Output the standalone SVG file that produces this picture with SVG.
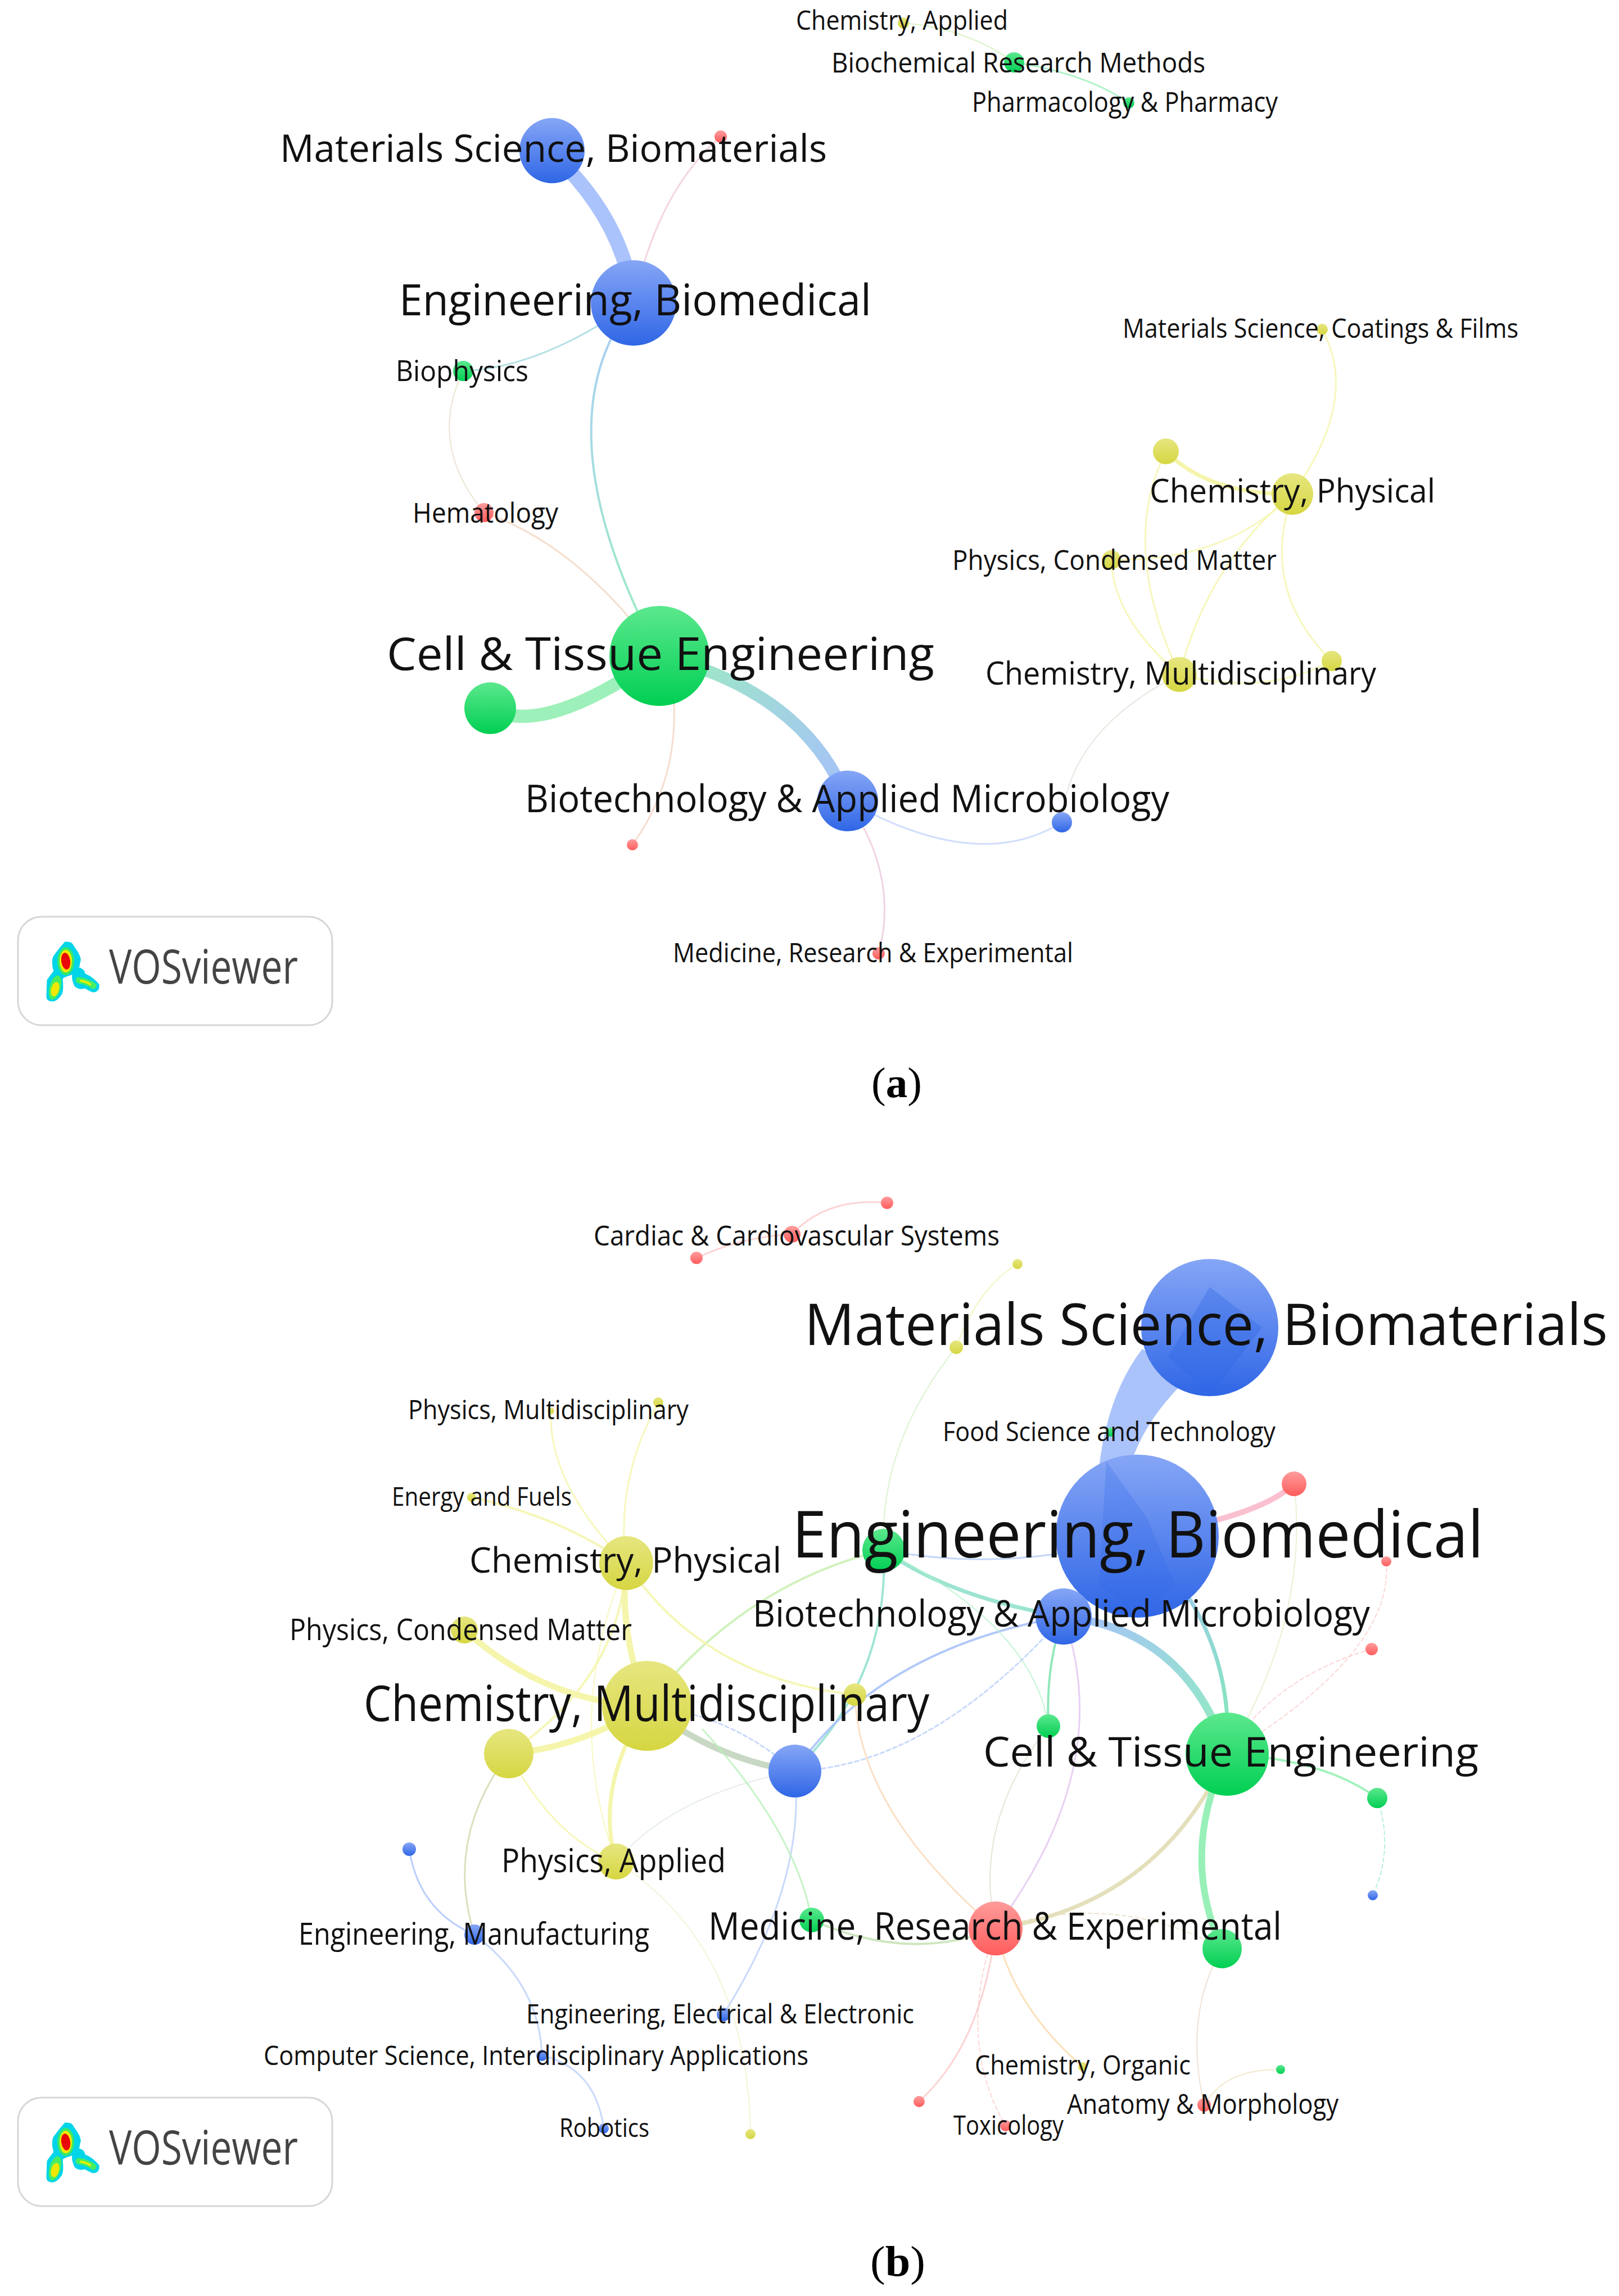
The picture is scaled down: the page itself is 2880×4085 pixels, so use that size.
<svg xmlns="http://www.w3.org/2000/svg" width="2880" height="4085" viewBox="0 0 2880 4085">
<defs>
<linearGradient id="gb" x1="0" y1="0" x2="0" y2="1"><stop offset="0" stop-color="#86a6f6"/><stop offset="1" stop-color="#2f66e6"/></linearGradient>
<linearGradient id="gg" x1="0" y1="0" x2="0" y2="1"><stop offset="0" stop-color="#5ce88e"/><stop offset="1" stop-color="#00cf52"/></linearGradient>
<linearGradient id="gy" x1="0" y1="0" x2="0" y2="1"><stop offset="0" stop-color="#e6e680"/><stop offset="1" stop-color="#d6d642"/></linearGradient>
<linearGradient id="gr" x1="0" y1="0" x2="0" y2="1"><stop offset="0" stop-color="#ff9c9c"/><stop offset="1" stop-color="#ff5c5c"/></linearGradient>
<linearGradient id="eb" gradientUnits="userSpaceOnUse" x1="1127" y1="539" x2="1173" y2="1167"><stop offset="0" stop-color="#9cc4f4"/><stop offset="1" stop-color="#8cecb8"/></linearGradient>
<linearGradient id="cb" gradientUnits="userSpaceOnUse" x1="1173" y1="1167" x2="1508" y2="1425"><stop offset="0" stop-color="#9cecc0"/><stop offset="1" stop-color="#a6c0fb"/></linearGradient>
<linearGradient id="cc" gradientUnits="userSpaceOnUse" x1="1892" y1="2876" x2="2183" y2="3121"><stop offset="0" stop-color="#a6c0fb"/><stop offset="1" stop-color="#90eec0"/></linearGradient>
<linearGradient id="ec" gradientUnits="userSpaceOnUse" x1="2023" y1="2733" x2="2183" y2="3121"><stop offset="0" stop-color="#a6c0fb"/><stop offset="1" stop-color="#80ecb4"/></linearGradient>
</defs>
<style>
text{font-family:"Open Sans","Liberation Sans",sans-serif;fill:#111}
.cap{font-family:"Liberation Serif",serif;font-size:76px;fill:#000}
.vos{font-size:84px;fill:#444}
path.k{fill:none;stroke-linecap:round}
.y{stroke:#f5f5ac}.b{stroke:#bcd0fa}.g{stroke:#b0f2c8}.r{stroke:#fbc8c8}
.w2{stroke-width:2px;opacity:.75}.w3{stroke-width:3px;opacity:.8}.w5{stroke-width:4px;opacity:.85}.w8{stroke-width:7px}.w12{stroke-width:11px}
.d{stroke-dasharray:7 5}
.nb{fill:url(#gb)}.ng{fill:url(#gg)}.ny{fill:url(#gy)}.nr{fill:url(#gr)}
</style>
<rect width="2880" height="4085" fill="#fff"/>

<g id="connectors-a">
<path class="k" d="M1000,290 Q1110,400 1127,539" stroke="#abc3fb" stroke-width="26"/>
<path class="k w3" d="M1282,243 Q1170,340 1127,539" stroke="#f0cbdc"/>
<path class="k w3" d="M1127,539 Q960,655 824,660" stroke="#a0d8dc"/>
<path class="k w2" d="M824,660 Q760,790 861,912" stroke="#e6dcc4"/>
<path class="k w3" d="M861,912 Q1030,970 1173,1167" stroke="#f2d6c0"/>
<path class="k w5" d="M1127,539 Q956,756 1173,1167" stroke="url(#eb)"/>
<path class="k" d="M872,1260 Q964,1314 1173,1167" stroke="#9df0b9" stroke-width="24"/>
<path class="k" d="M1173,1167 Q1430,1230 1508,1425" stroke="url(#cb)" stroke-width="22"/>
<path class="k w3" d="M1199,1251 Q1205,1392 1125,1503" stroke="#f2d4c4"/>
<path class="k w3" d="M1508,1425 Q1740,1556 1889,1463" stroke="#c5d5fb"/>
<path class="k w3" d="M1508,1425 Q1600,1560 1563,1696" stroke="#ecc8dc"/>
<path class="k w2" d="M1889,1463 Q1900,1300 2098,1200" stroke="#d8e2d4"/>
<path class="k y w3" d="M2098,1200 Q2250,1240 2369,1176"/>
<path class="k y w3" d="M2299,879 Q2150,1000 2098,1200"/>
<path class="k y w3" d="M1977,996 Q2180,1000 2299,879"/>
<path class="k y w3" d="M1977,996 Q1980,1100 2098,1200"/>
<path class="k y w8" d="M2074,803 Q2150,880 2299,879"/>
<path class="k y w3" d="M2074,803 Q1990,970 2098,1200"/>
<path class="k y w3" d="M2299,879 Q2420,710 2352,586"/>
<path class="k y w3" d="M2299,879 Q2240,1050 2369,1176"/>
<path class="k w2" d="M1607,41 Q1720,50 1804,111" stroke="#c8f0b0"/>
<path class="k w3" d="M1804,111 Q1930,130 2008,183" stroke="#9ff0bc"/>
</g>

<g id="connectors-b">
<path class="k r w3" d="M1578,2140 Q1470,2130 1409,2196"/>
<path class="k r w3" d="M1409,2196 Q1320,2200 1239,2238"/>
<path class="k w2" d="M1810,2249 Q1740,2290 1701,2397" stroke="#f0f0b0"/>
<path class="k w2" d="M1701,2397 Q1563,2570 1572,2758" stroke="#cfeec0"/>
<path d="M2032,2400 Q1955,2500 1950,2680 L2000,2680 Q2000,2560 2115,2450 Z" fill="#abc3fb"/>
<path class="k" d="M2023,2733 Q2240,2700 2302,2640" stroke="#fac0d0" stroke-width="10"/>
<path class="k w2" d="M2302,2640 Q2330,2880 2183,3121" stroke="#e2ecc4"/>
<path class="k r w2 d" d="M2466,2778 Q2480,2940 2183,3121"/>
<path class="k r w2 d" d="M2440,2934 Q2262,2986 2183,3121"/>
<path class="k w8" d="M2023,2733 Q2197,2895 2183,3121" stroke="url(#ec)"/>
<path class="k" d="M1892,2876 Q2110,2900 2183,3121" stroke="url(#cc)" stroke-width="14"/>
<path class="k" d="M2023,2733 Q1960,2830 1892,2876" stroke="#abc3fb" stroke-width="14"/>
<path class="k w8" d="M1572,2758 Q1692,2843 1892,2876" stroke="#9ce4d0"/>
<path class="k w3" d="M1572,2758 Q1800,2800 2023,2733" stroke="#b4ccf8"/>
<path class="k w5" d="M1572,2758 Q1324,2817 1151,3035" stroke="#c8f0b0"/>
<path class="k w5" d="M1572,2758 Q1582,2986 1414,3151" stroke="#8fe0cc"/>
<path class="k w5" d="M1892,2876 Q1563,2934 1414,3151" stroke="#a4c0f8"/>
<path class="k w5" d="M1892,2876 Q1860,2960 1865,3071" stroke="#7fe4ae"/>
<path class="k w3" d="M1892,2876 Q1986,3142 1771,3431" stroke="#e2c4f0"/>
<path class="k g w2" d="M1572,2758 Q1839,2895 1865,3071"/>
<path class="k w2" d="M1865,3071 Q1729,3246 1771,3431" stroke="#dadcc4"/>
<path class="k w12" d="M1151,3035 Q1269,3129 1414,3151" stroke="#c8d8c4"/>
<path class="k b w3 d" d="M1151,3035 Q1300,3050 1414,3151"/>
<path class="k b w3 d" d="M1414,3151 Q1655,3142 1892,2876"/>
<path class="k y w5" d="M1521,3015 Q1250,2986 1114,2781"/>
<path class="k w3" d="M1521,3015 Q1526,3220 1771,3431" stroke="#fad8b8"/>
<path class="k y w12" d="M1151,3035 Q1100,2900 1114,2781"/>
<path class="k y w12" d="M826,2900 Q970,3030 1151,3035"/>
<path class="k y w12" d="M905,3120 Q1030,3110 1151,3035"/>
<path class="k y w5" d="M905,3120 Q1103,2986 1114,2781"/>
<path class="k y w5" d="M839,2664 Q1000,2700 1114,2781"/>
<path class="k y w3" d="M1114,2781 Q1094,2635 1171,2495"/>
<path class="k y w3" d="M980,2510 Q975,2640 1114,2781"/>
<path class="k y w8" d="M1151,3035 Q1057,3181 1096,3312"/>
<path class="k y w3" d="M905,3120 Q985,3270 1096,3312"/>
<path class="k y w2" d="M1114,2781 Q1000,3050 1096,3312"/>
<path class="k w2" d="M1096,3312 Q1195,3194 1414,3151" stroke="#dde6e8"/>
<path class="k w2" d="M1096,3312 Q1330,3460 1335,3797" stroke="#ecf0c8"/>
<path class="k w3" d="M905,3120 Q790,3272 844,3442" stroke="#d2d8ac"/>
<path class="k w3" d="M728,3290 Q745,3400 844,3442" stroke="#a9c1fb"/>
<path class="k b w3" d="M844,3442 Q960,3530 964,3657"/>
<path class="k b w3" d="M964,3657 Q1060,3680 1074,3787"/>
<path class="k b w3" d="M1414,3151 Q1434,3350 1287,3584"/>
<path class="k w3" d="M1250,3077 Q1416,3259 1444,3416" stroke="#b8f0b8"/>
<path class="k w5" d="M1444,3416 Q1618,3493 1771,3431" stroke="#c4e2b4"/>
<path class="k w8" d="M1771,3431 Q2060,3389 2183,3121" stroke="#e4e0bc"/>
<path class="k" d="M2183,3121 Q2097,3298 2174,3467" stroke="#98f0b8" stroke-width="12"/>
<path class="k w2 d" d="M1771,3431 Q1986,3363 2174,3467" stroke="#e6dcbc"/>
<path class="k w5" d="M2183,3121 Q2354,3129 2450,3199" stroke="#90f0b0"/>
<path class="k w2 d" d="M2450,3199 Q2480,3290 2442,3372" stroke="#a0e8d8"/>
<path class="k r w3" d="M1771,3431 Q1747,3636 1635,3739"/>
<path class="k r w2 d" d="M1771,3431 Q1700,3630 1789,3782"/>
<path class="k w3" d="M1771,3431 Q1802,3571 1926,3677" stroke="#fad8a8"/>
<path class="k w2" d="M2174,3467 Q2105,3584 2142,3745" stroke="#e8d8c8"/>
<path class="k w2" d="M2142,3745 Q2180,3680 2278,3682" stroke="#f0e0c0"/>
</g>

<g id="a-red-1"><circle class="nr" cx="1282" cy="243" r="11"/></g>
<g id="a-green-1"><circle class="ng" cx="872" cy="1260" r="46"/></g>
<g id="a-red-2"><circle class="nr" cx="1125" cy="1503" r="10"/></g>
<g id="a-blue-1"><circle class="nb" cx="1889" cy="1463" r="18"/></g>
<g id="a-yellow-1"><circle class="ny" cx="2369" cy="1176" r="18"/></g>
<g id="a-yellow-2"><circle class="ny" cx="2074" cy="803" r="23"/></g>

<g id="a-cell"><circle class="ng" cx="1173" cy="1167" r="89"/><text x="688" y="1192" font-size="81" textLength="974" lengthAdjust="spacingAndGlyphs">Cell &amp; Tissue Engineering</text></g>
<g id="a-eng"><circle class="nb" cx="1127" cy="539" r="76"/><text x="710" y="561" font-size="77" textLength="840" lengthAdjust="spacingAndGlyphs">Engineering, Biomedical</text></g>
<g id="a-mat"><circle class="nb" cx="982" cy="268" r="58"/><text x="498" y="288" font-size="68" textLength="973" lengthAdjust="spacingAndGlyphs">Materials Science, Biomaterials</text></g>
<g id="a-biotech"><circle class="nb" cx="1508" cy="1425" r="54"/><text x="934" y="1445" font-size="68" textLength="1146" lengthAdjust="spacingAndGlyphs">Biotechnology &amp; Applied Microbiology</text></g>
<g id="a-chemphys"><circle class="ny" cx="2299" cy="879" r="37"/><text x="2045" y="894" font-size="59" textLength="508" lengthAdjust="spacingAndGlyphs">Chemistry, Physical</text></g>
<g id="a-chemmulti"><circle class="ny" cx="2098" cy="1200" r="31"/><text x="1753" y="1218" font-size="56" textLength="695" lengthAdjust="spacingAndGlyphs">Chemistry, Multidisciplinary</text></g>
<g id="a-biophysics"><circle class="ng" cx="824" cy="660" r="18"/><text x="704" y="678" font-size="52" textLength="236" lengthAdjust="spacingAndGlyphs">Biophysics</text></g>
<g id="a-biochem"><circle class="ng" cx="1804" cy="111" r="18"/><text x="1479" y="129" font-size="50" textLength="665" lengthAdjust="spacingAndGlyphs">Biochemical Research Methods</text></g>
<g id="a-hema"><circle class="nr" cx="861" cy="912" r="17"/><text x="734" y="930" font-size="50" textLength="259" lengthAdjust="spacingAndGlyphs">Hematology</text></g>
<g id="a-physcond"><circle class="ny" cx="1977" cy="996" r="17"/><text x="1694" y="1014" font-size="49" textLength="577" lengthAdjust="spacingAndGlyphs">Physics, Condensed Matter</text></g>
<g id="a-med"><circle class="nr" cx="1563" cy="1696" r="11"/><text x="1197" y="1712" font-size="48" textLength="712" lengthAdjust="spacingAndGlyphs">Medicine, Research &amp; Experimental</text></g>
<g id="a-coat"><circle class="ny" cx="2352" cy="586" r="10"/><text x="1997" y="601" font-size="47" textLength="704" lengthAdjust="spacingAndGlyphs">Materials Science, Coatings &amp; Films</text></g>
<g id="a-chemapp"><circle class="ny" cx="1607" cy="41" r="10"/><text x="1416" y="53" font-size="47" textLength="377" lengthAdjust="spacingAndGlyphs">Chemistry, Applied</text></g>
<g id="a-pharm"><circle class="ng" cx="2008" cy="183" r="10"/><text x="1729" y="199" font-size="49" textLength="544" lengthAdjust="spacingAndGlyphs">Pharmacology &amp; Pharmacy</text></g>

<g id="logo-a">
<rect x="32" y="1631" width="559" height="193" rx="42" fill="#fff" stroke="#d6d6d6" stroke-width="3"/>
<path d="M116,1677 Q128,1676 130,1684 Q146,1705 141,1712 Q140,1730 124,1734 Q110,1738 110,1742 Q112,1760 109,1768 Q100,1782 91,1780 Q83,1780 84,1770 L85,1744 Q92,1734 97,1728 Q92,1712 96,1702 Q106,1688 116,1677 Z" fill="#00d4e8" stroke="#00d4e8" stroke-width="3"/>
<path d="M141,1723 Q150,1726 150,1733 Q166,1740 175,1752 Q176,1764 165,1764 Q156,1760 151,1757 Q140,1760 134,1754 Q128,1742 130,1732 Q134,1724 141,1723 Z" fill="#00d4e8" stroke="#00d4e8" stroke-width="3"/>
<ellipse cx="117" cy="1710" rx="15" ry="25" fill="#38e868"/><ellipse cx="117" cy="1710" rx="11" ry="20" fill="#f4e800"/><ellipse cx="117" cy="1710" rx="8" ry="15" fill="#e80808" transform="rotate(-8 117 1710)"/>
<ellipse cx="98" cy="1757" rx="10" ry="22" fill="#48ee60" transform="rotate(15 98 1757)"/><ellipse cx="98" cy="1760" rx="7" ry="13" fill="#f0e800" transform="rotate(15 98 1760)"/>
<path d="M140,1744 Q155,1746 166,1754" fill="none" stroke="#48ee60" stroke-width="11" stroke-linecap="round"/><path d="M144,1745 Q155,1747 160,1751" fill="none" stroke="#e8f000" stroke-width="4" stroke-linecap="round"/>
<text class="vos" x="194" y="1750" textLength="336" lengthAdjust="spacingAndGlyphs">VOSviewer</text>
</g>
<text class="cap" x="1550" y="1952" textLength="90" lengthAdjust="spacingAndGlyphs">(<tspan font-weight="bold">a</tspan>)</text>

<g id="b-red-1"><circle class="nr" cx="1578" cy="2140" r="11"/></g>
<g id="b-red-2"><circle class="nr" cx="1239" cy="2238" r="11"/></g>
<g id="b-yellow-1"><circle class="ny" cx="1810" cy="2249" r="9"/></g>
<g id="b-yellow-2"><circle class="ny" cx="1701" cy="2397" r="12"/></g>
<g id="b-yellow-3"><circle class="ny" cx="1171" cy="2495" r="9"/></g>
<g id="b-red-3"><circle class="nr" cx="2302" cy="2640" r="22"/></g>
<g id="b-red-4"><circle class="nr" cx="2466" cy="2778" r="9"/></g>
<g id="b-red-5"><circle class="nr" cx="2440" cy="2934" r="11"/></g>
<g id="b-green-1"><circle class="ng" cx="1572" cy="2758" r="38"/></g>
<g id="b-yellow-4"><circle class="ny" cx="1521" cy="3015" r="20"/></g>
<g id="b-yellow-5"><circle class="ny" cx="905" cy="3120" r="44"/></g>
<g id="b-blue-1"><circle class="nb" cx="1414" cy="3151" r="47"/></g>
<g id="b-green-2"><circle class="ng" cx="1865" cy="3071" r="21"/></g>
<g id="b-green-3"><circle class="ng" cx="2450" cy="3199" r="18"/></g>
<g id="b-blue-2"><circle class="nb" cx="2442" cy="3372" r="9"/></g>
<g id="b-blue-3"><circle class="nb" cx="728" cy="3290" r="12"/></g>
<g id="b-green-4"><circle class="ng" cx="1444" cy="3416" r="22"/></g>
<g id="b-green-5"><circle class="ng" cx="2174" cy="3467" r="35"/></g>
<g id="b-yellow-6"><circle class="ny" cx="1335" cy="3797" r="9"/></g>
<g id="b-red-6"><circle class="nr" cx="1635" cy="3739" r="10"/></g>
<g id="b-green-6"><circle class="ng" cx="2278" cy="3682" r="8"/></g>

<g id="b-eng"><circle class="nb" cx="2023" cy="2733" r="145"/><path d="M1968,2600 L1955,2820 L2023,2870 L2090,2820 L2040,2700 Z" fill="#2f66e6" opacity=".25"/><text x="1409" y="2771" font-size="116" textLength="1230" lengthAdjust="spacingAndGlyphs">Engineering, Biomedical</text></g>
<g id="b-mat"><circle class="nb" cx="2152" cy="2362" r="122"/><path d="M2152,2290 L2245,2362 L2152,2485 L2078,2414 Z" fill="#2f66e6" opacity=".35"/><text x="1431" y="2393" font-size="103" textLength="1429" lengthAdjust="spacingAndGlyphs">Materials Science, Biomaterials</text></g>
<g id="b-chemmulti"><circle class="ny" cx="1151" cy="3035" r="80"/><text x="647" y="3062" font-size="87" textLength="1006" lengthAdjust="spacingAndGlyphs">Chemistry, Multidisciplinary</text></g>
<g id="b-cell"><circle class="ng" cx="2183" cy="3121" r="74"/><text x="1749" y="3143" font-size="74" textLength="881" lengthAdjust="spacingAndGlyphs">Cell &amp; Tissue Engineering</text></g>
<g id="b-med"><circle class="nr" cx="1771" cy="3431" r="48"/><text x="1260" y="3451" font-size="67" textLength="1020" lengthAdjust="spacingAndGlyphs">Medicine, Research &amp; Experimental</text></g>
<g id="b-biotech"><circle class="nb" cx="1892" cy="2876" r="50"/><text x="1339" y="2894" font-size="65" textLength="1098" lengthAdjust="spacingAndGlyphs">Biotechnology &amp; Applied Microbiology</text></g>
<g id="b-chemphys"><circle class="ny" cx="1114" cy="2781" r="48"/><text x="835" y="2798" font-size="63" textLength="555" lengthAdjust="spacingAndGlyphs">Chemistry, Physical</text></g>
<g id="b-physapp"><circle class="ny" cx="1096" cy="3312" r="32"/><text x="892" y="3331" font-size="58" textLength="399" lengthAdjust="spacingAndGlyphs">Physics, Applied</text></g>
<g id="b-physcond"><circle class="ny" cx="826" cy="2900" r="24"/><text x="515" y="2918" font-size="53" textLength="609" lengthAdjust="spacingAndGlyphs">Physics, Condensed Matter</text></g>
<g id="b-engman"><circle class="nb" cx="844" cy="3442" r="18"/><text x="531" y="3460" font-size="54" textLength="624" lengthAdjust="spacingAndGlyphs">Engineering, Manufacturing</text></g>
<g id="b-card"><circle class="nr" cx="1409" cy="2196" r="15"/><text x="1056" y="2216" font-size="49" textLength="722" lengthAdjust="spacingAndGlyphs">Cardiac &amp; Cardiovascular Systems</text></g>
<g id="b-food"><circle class="ng" cx="1975" cy="2548" r="8"/><text x="1677" y="2564" font-size="47" textLength="592" lengthAdjust="spacingAndGlyphs">Food Science and Technology</text></g>
<g id="b-physmulti"><circle class="ny" cx="980" cy="2510" r="6"/><text x="726" y="2525" font-size="47" textLength="499" lengthAdjust="spacingAndGlyphs">Physics, Multidisciplinary</text></g>
<g id="b-energy"><circle class="ny" cx="839" cy="2664" r="8"/><text x="697" y="2679" font-size="45" textLength="320" lengthAdjust="spacingAndGlyphs">Energy and Fuels</text></g>
<g id="b-engel"><circle class="nb" cx="1287" cy="3584" r="12"/><text x="936" y="3600" font-size="47" textLength="690" lengthAdjust="spacingAndGlyphs">Engineering, Electrical &amp; Electronic</text></g>
<g id="b-comp"><circle class="nb" cx="964" cy="3657" r="10"/><text x="469" y="3674" font-size="47" textLength="969" lengthAdjust="spacingAndGlyphs">Computer Science, Interdisciplinary Applications</text></g>
<g id="b-org"><circle class="ny" cx="1926" cy="3677" r="8"/><text x="1734" y="3691" font-size="47" textLength="384" lengthAdjust="spacingAndGlyphs">Chemistry, Organic</text></g>
<g id="b-anat"><circle class="nr" cx="2142" cy="3745" r="12"/><text x="1898" y="3761" font-size="49" textLength="483" lengthAdjust="spacingAndGlyphs">Anatomy &amp; Morphology</text></g>
<g id="b-tox"><circle class="nr" cx="1789" cy="3782" r="10"/><text x="1696" y="3798" font-size="47" textLength="196" lengthAdjust="spacingAndGlyphs">Toxicology</text></g>
<g id="b-rob"><circle class="nb" cx="1074" cy="3787" r="9"/><text x="995" y="3802" font-size="45" textLength="160" lengthAdjust="spacingAndGlyphs">Robotics</text></g>

<g id="logo-b" transform="translate(0,2101)">
<rect x="32" y="1631" width="559" height="193" rx="42" fill="#fff" stroke="#d6d6d6" stroke-width="3"/>
<path d="M116,1677 Q128,1676 130,1684 Q146,1705 141,1712 Q140,1730 124,1734 Q110,1738 110,1742 Q112,1760 109,1768 Q100,1782 91,1780 Q83,1780 84,1770 L85,1744 Q92,1734 97,1728 Q92,1712 96,1702 Q106,1688 116,1677 Z" fill="#00d4e8" stroke="#00d4e8" stroke-width="3"/>
<path d="M141,1723 Q150,1726 150,1733 Q166,1740 175,1752 Q176,1764 165,1764 Q156,1760 151,1757 Q140,1760 134,1754 Q128,1742 130,1732 Q134,1724 141,1723 Z" fill="#00d4e8" stroke="#00d4e8" stroke-width="3"/>
<ellipse cx="117" cy="1710" rx="15" ry="25" fill="#38e868"/><ellipse cx="117" cy="1710" rx="11" ry="20" fill="#f4e800"/><ellipse cx="117" cy="1710" rx="8" ry="15" fill="#e80808" transform="rotate(-8 117 1710)"/>
<ellipse cx="98" cy="1757" rx="10" ry="22" fill="#48ee60" transform="rotate(15 98 1757)"/><ellipse cx="98" cy="1760" rx="7" ry="13" fill="#f0e800" transform="rotate(15 98 1760)"/>
<path d="M140,1744 Q155,1746 166,1754" fill="none" stroke="#48ee60" stroke-width="11" stroke-linecap="round"/><path d="M144,1745 Q155,1747 160,1751" fill="none" stroke="#e8f000" stroke-width="4" stroke-linecap="round"/>
<text class="vos" x="194" y="1750" textLength="336" lengthAdjust="spacingAndGlyphs">VOSviewer</text>
</g>
<text class="cap" x="1548" y="4049" textLength="98" lengthAdjust="spacingAndGlyphs">(<tspan font-weight="bold">b</tspan>)</text>
</svg>
